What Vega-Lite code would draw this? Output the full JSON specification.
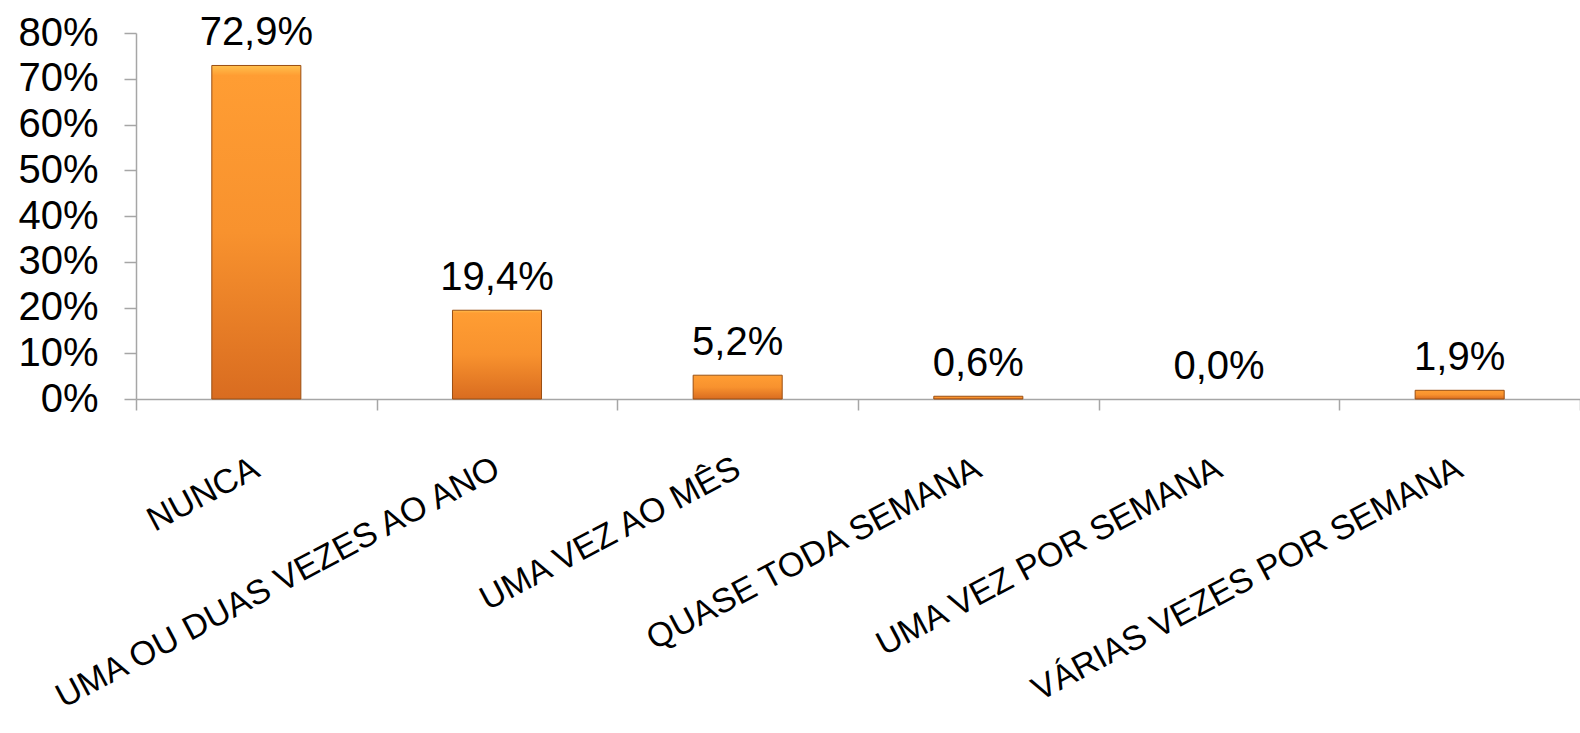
{
  "$schema": "https://vega.github.io/schema/vega-lite/v6.json",
  "width": 1444,
  "height": 366,
  "autosize": {"type": "none"},
  "padding": {"left": 136, "top": 33, "right": 0, "bottom": 334},
  "background": "white",
  "config": {
    "view": {"stroke": null},
    "font": "Liberation Sans",
    "locale": {"number": {"decimal": ",", "thousands": ".", "grouping": [3], "currency": ["", " €"]}}
  },
  "data": {
    "values": [
      {"categoria": "NUNCA", "valor": 0.729},
      {"categoria": "UMA OU DUAS VEZES AO ANO", "valor": 0.194},
      {"categoria": "UMA VEZ AO MÊS", "valor": 0.052},
      {"categoria": "QUASE TODA SEMANA", "valor": 0.006},
      {"categoria": "UMA VEZ POR SEMANA", "valor": 0.0},
      {"categoria": "VÁRIAS VEZES POR SEMANA", "valor": 0.019}
    ]
  },
  "encoding": {
    "x": {
      "field": "categoria",
      "type": "nominal",
      "sort": ["NUNCA", "UMA OU DUAS VEZES AO ANO", "UMA VEZ AO MÊS", "QUASE TODA SEMANA", "UMA VEZ POR SEMANA", "VÁRIAS VEZES POR SEMANA"],
      "scale": {"paddingInner": 0, "paddingOuter": 0},
      "axis": {
        "title": null,
        "tickBand": "extent",
        "domainColor": "#a6a6a6",
        "domainWidth": 1.5,
        "tickColor": "#a6a6a6",
        "tickWidth": 1.5,
        "tickSize": 11,
        "labelAngle": -28,
        "labelAlign": "right",
        "labelBaseline": "middle",
        "labelPadding": 56,
        "labelFontSize": 34,
        "labelColor": "#000000",
        "labelFont": "Liberation Sans",
        "labelLimit": 1000,
        "labelOverlap": false
      }
    },
    "y": {
      "field": "valor",
      "type": "quantitative",
      "scale": {"domain": [0, 0.8], "nice": false},
      "axis": {
        "title": null,
        "format": ".0%",
        "values": [0, 0.1, 0.2, 0.3, 0.4, 0.5, 0.6, 0.7, 0.8],
        "grid": false,
        "domainColor": "#a6a6a6",
        "domainWidth": 1.5,
        "tickColor": "#a6a6a6",
        "tickWidth": 1.5,
        "tickSize": 12,
        "labelPadding": 26,
        "labelFontSize": 40,
        "labelColor": "#000000",
        "labelFont": "Liberation Sans"
      }
    }
  },
  "layer": [
    {
      "transform": [{"filter": "datum.valor > 0"}],
      "mark": {
        "type": "bar",
        "width": {"band": 0.37},
        "stroke": "#9a4e12",
        "strokeWidth": 1,
        "fill": {
          "gradient": "linear",
          "x1": 0, "y1": 0, "x2": 0, "y2": 1,
          "stops": [
            {"offset": 0, "color": "#ffc04d"},
            {"offset": 0.03, "color": "#ff9d33"},
            {"offset": 0.5, "color": "#f8922e"},
            {"offset": 1, "color": "#d96c20"}
          ]
        }
      }
    },
    {
      "mark": {
        "type": "text",
        "baseline": "alphabetic",
        "dy": -20,
        "fontSize": 40,
        "font": "Liberation Sans",
        "color": "#000000"
      },
      "encoding": {
        "text": {"field": "valor", "type": "quantitative", "format": ".1%"}
      }
    }
  ]
}
